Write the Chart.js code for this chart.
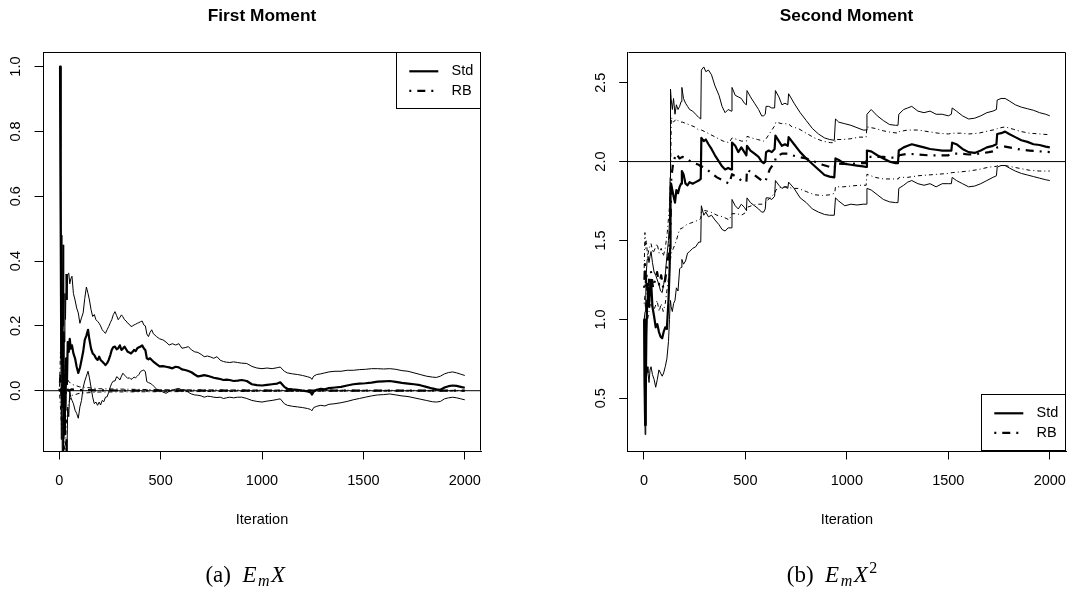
<!DOCTYPE html>
<html><head><meta charset="utf-8">
<script src="https://cdn.jsdelivr.net/npm/chart.js@4.4.1/dist/chart.umd.min.js"></script>
<style>
html,body{margin:0;padding:0;background:#fff;}
#wrap{position:relative;width:1090px;height:592px;overflow:hidden;background:#fff;}
.panel{position:absolute;top:0;width:545px;height:592px;}
.ttl{position:absolute;top:4.7px;width:300px;font:bold 17.3px "Liberation Sans",Arial,sans-serif;line-height:20px;text-align:center;white-space:nowrap;color:#000;}
.cap{position:absolute;top:562px;width:240px;font:23px "Liberation Serif","Times New Roman",serif;line-height:26px;text-align:center;white-space:nowrap;color:#000;}
.cap i{letter-spacing:1.5px;}
.sub{font-size:16px;position:relative;top:4px;font-style:italic;}
.sup{font-size:16px;position:relative;top:-9px;font-style:normal;}
</style></head>
<body>
<div id="wrap">
  <div class="panel" style="left:0"><canvas id="c1" width="545" height="592"></canvas></div>
  <div class="panel" style="left:545px"><canvas id="c2" width="545" height="592"></canvas></div>
  <div class="ttl" style="left:112px">First Moment</div>
  <div class="ttl" style="left:696.5px">Second Moment</div>
  <div class="cap" style="left:126px">(a)&nbsp;&nbsp;<i>E<span class="sub">m</span>X</i></div>
  <div class="cap" style="left:712px">(b)&nbsp;&nbsp;<i>E<span class="sub">m</span>X</i><span class="sup">2</span></div>
</div>
<script>
// ---------- data ----------
const xTicks = [0, 500, 1000, 1500, 2000];
const yTicksFirst = [0, 0.2, 0.4, 0.6, 0.8, 1.0];
const yTicksSecond = [0.5, 1.0, 1.5, 2.0, 2.5];
const legendLabels = ['Std', 'RB'];
const trueFirst = 0;
const trueSecond = 2;

const firstStdIter = [1,4,7,10,13,16,19,22,25,28,
 31,34,38,42,47,52,57,63,70,78,
 86,94,102,110,118,126,134,142,149,157,
 165,173,181,189,197,204,212,220,228,236,
 244,252,259,267,275,283,291,299,307,314,
 322,330,338,346,354,362,369,377,385,393,
 401,409,417,425,432,440,448,456,464,480,
 495,511,527,542,558,574,590,605,621,637,
 652,668,684,700,715,731,747,762,778,794,
 810,825,841,860,880,900,925,950,975,1000,
 1025,1050,1075,1090,1110,1125,1150,1175,1200,1225,
 1240,1246,1255,1270,1290,1310,1330,1360,1390,1420,
 1450,1480,1510,1540,1570,1600,1630,1660,1690,1720,
 1750,1780,1810,1840,1860,1880,1900,1920,1940,1960,
 1980,2000];
const firstStdMean = [1.0,1.0,0.55,0.1,0.25,-0.05,0.18,-0.1,-0.135,0.05,
 -0.06,0.1,0.02,0.15,0.12,0.16,0.13,0.14,0.115,0.1,
 0.074,0.055,0.07,0.095,0.12,0.157,0.17,0.188,0.157,0.13,
 0.115,0.11,0.1,0.095,0.105,0.095,0.09,0.085,0.079,0.085,
 0.095,0.11,0.126,0.135,0.136,0.128,0.131,0.14,0.126,0.13,
 0.136,0.128,0.12,0.118,0.115,0.12,0.126,0.122,0.131,0.134,
 0.136,0.14,0.131,0.125,0.1,0.097,0.1,0.095,0.09,0.082,
 0.075,0.076,0.074,0.072,0.069,0.074,0.072,0.066,0.064,0.061,
 0.057,0.05,0.044,0.046,0.048,0.046,0.043,0.04,0.038,0.036,
 0.033,0.034,0.033,0.03,0.031,0.033,0.03,0.02,0.017,0.016,
 0.018,0.02,0.022,0.026,0.012,0.006,0.004,0.003,0.0,-0.002,
 -0.005,-0.012,-0.003,0.003,0.006,0.004,0.008,0.01,0.012,0.016,
 0.02,0.022,0.023,0.025,0.028,0.029,0.03,0.027,0.024,0.022,
 0.02,0.017,0.012,0.007,0.004,0.003,0.01,0.014,0.016,0.015,
 0.012,0.009];
const firstStdUpper = [1.0,1.0,0.75,0.35,0.48,0.25,0.45,0.2,0.15,0.3,
 0.22,0.36,0.28,0.36,0.363,0.33,0.345,0.353,0.3,0.28,
 0.255,0.24,0.208,0.225,0.24,0.285,0.32,0.3,0.28,0.25,
 0.229,0.235,0.219,0.214,0.208,0.2,0.188,0.182,0.177,0.188,
 0.198,0.21,0.219,0.235,0.244,0.232,0.219,0.226,0.234,0.228,
 0.219,0.215,0.208,0.205,0.198,0.2,0.203,0.205,0.208,0.21,
 0.213,0.215,0.203,0.2,0.175,0.167,0.18,0.188,0.176,0.167,
 0.16,0.157,0.15,0.141,0.145,0.141,0.145,0.131,0.133,0.136,
 0.126,0.12,0.118,0.112,0.105,0.107,0.104,0.1,0.105,0.094,
 0.09,0.088,0.087,0.089,0.087,0.085,0.084,0.075,0.07,0.068,
 0.07,0.068,0.071,0.073,0.06,0.055,0.052,0.05,0.047,0.043,
 0.04,0.035,0.045,0.05,0.052,0.055,0.058,0.06,0.06,0.063,
 0.063,0.065,0.066,0.068,0.068,0.067,0.068,0.066,0.062,0.06,
 0.055,0.05,0.045,0.042,0.041,0.045,0.052,0.056,0.058,0.055,
 0.051,0.047];
const firstStdLower = [1.0,1.0,0.35,-0.15,0.02,-0.3,-0.08,-0.35,-0.4,-0.2,
 -0.32,-0.15,-0.2,-0.05,-0.08,0.0,-0.02,-0.03,-0.04,-0.06,
 -0.07,-0.085,-0.05,-0.03,0.01,0.03,0.045,0.06,0.04,0.01,
 -0.02,-0.04,-0.035,-0.045,-0.035,-0.044,-0.03,-0.034,-0.02,-0.019,
 -0.005,0.012,0.023,0.03,0.03,0.043,0.04,0.033,0.045,0.054,
 0.048,0.043,0.038,0.04,0.035,0.038,0.042,0.04,0.045,0.05,
 0.059,0.062,0.064,0.058,0.028,0.025,0.023,0.02,0.015,0.005,
 0.002,-0.004,-0.008,-0.002,0.002,0.005,0.007,0.002,0.003,-0.005,
 -0.01,-0.013,-0.014,-0.016,-0.02,-0.017,-0.018,-0.02,-0.021,-0.02,
 -0.024,-0.022,-0.02,-0.022,-0.02,-0.02,-0.024,-0.03,-0.033,-0.035,
 -0.032,-0.03,-0.027,-0.025,-0.04,-0.045,-0.048,-0.05,-0.052,-0.055,
 -0.058,-0.062,-0.052,-0.048,-0.045,-0.047,-0.042,-0.04,-0.037,-0.033,
 -0.028,-0.024,-0.02,-0.016,-0.013,-0.012,-0.01,-0.013,-0.016,-0.018,
 -0.022,-0.026,-0.03,-0.034,-0.035,-0.033,-0.025,-0.022,-0.02,-0.022,
 -0.025,-0.028];

const firstRBIter  = [1, 6, 12, 20, 28, 35, 45, 60, 100, 200, 500, 1000, 2000];
const firstRBMean  = [0.0, 0.05, -0.03, 0.02, -0.04, 0.01, 0.0, 0.004, 0.002, 0.001, 0.0, 0.0, 0.0];
const firstRBUpper = [0.0, 0.12, 0.08, 0.1, 0.06, 0.05, 0.03, 0.02, 0.012, 0.006, 0.003, 0.002, 0.001];
const firstRBLower = [0.0, -0.05, -0.12, -0.08, -0.22, -0.1, -0.04, -0.015, -0.008, -0.004, -0.003, -0.002, -0.001];

const secondStdIter = [1,3,6,9,12,16,20,25,30,35,
 42,50,58,66,74,82,90,97,105,113,
 121,126,129,131,134,140,146,153,160,168,
 176,183,187,195,205,215,225,240,255,270,
 280,283,295,305,318,333,350,370,385,400,
 415,430,434,450,465,480,495,505,508,525,
 545,565,580,590,598,602,615,630,644,648,
 665,680,695,709,713,740,770,800,830,860,
 890,915,938,944,960,990,1020,1050,1080,1095,
 1099,1120,1150,1180,1210,1240,1252,1256,1280,1300,
 1320,1350,1380,1410,1440,1470,1500,1515,1519,1540,
 1570,1600,1630,1660,1690,1720,1737,1741,1760,1780,
 1800,1830,1860,1890,1920,1950,1980,2000];
const secondStdMean = [1.0,0.6,0.33,0.55,0.9,1.12,1.2,1.08,1.2,1.25,
 1.08,1.02,0.95,0.97,0.92,0.89,0.88,0.92,0.95,0.94,
 1.12,1.3,1.45,1.78,1.86,1.82,1.78,1.74,1.82,1.80,
 1.84,1.86,1.94,1.92,1.86,1.85,1.87,1.86,1.87,1.88,
 1.89,2.15,2.13,2.14,2.11,2.08,2.04,2.0,1.97,1.95,
 1.96,1.95,2.12,2.10,2.06,2.09,2.06,2.04,2.10,2.07,
 2.05,2.03,2.0,1.99,2.0,2.06,2.07,2.06,2.08,2.165,
 2.13,2.10,2.11,2.10,2.155,2.11,2.06,2.02,1.985,1.95,
 1.915,1.905,1.90,2.02,2.01,1.985,1.98,1.975,1.97,1.966,
 2.07,2.065,2.04,2.02,2.0,1.99,1.99,2.07,2.09,2.10,
 2.11,2.10,2.09,2.08,2.075,2.07,2.07,2.07,2.12,2.11,
 2.08,2.06,2.055,2.07,2.09,2.10,2.11,2.175,2.18,2.19,
 2.175,2.155,2.135,2.125,2.11,2.105,2.095,2.09];
const secondStdUpper = [1.0,1.0,1.05,1.15,1.3,1.38,1.40,1.36,1.40,1.43,
 1.36,1.30,1.28,1.25,1.22,1.18,1.17,1.22,1.28,1.40,
 1.50,1.62,1.9,2.46,2.40,2.33,2.40,2.30,2.36,2.33,
 2.35,2.38,2.47,2.40,2.37,2.35,2.33,2.32,2.30,2.28,
 2.27,2.58,2.60,2.57,2.58,2.55,2.48,2.42,2.35,2.31,
 2.33,2.32,2.47,2.42,2.41,2.40,2.37,2.36,2.45,2.41,
 2.37,2.33,2.29,2.29,2.30,2.35,2.35,2.34,2.34,2.45,
 2.41,2.36,2.37,2.36,2.43,2.37,2.31,2.26,2.21,2.175,
 2.15,2.14,2.135,2.27,2.25,2.24,2.23,2.215,2.20,2.20,
 2.30,2.33,2.29,2.26,2.235,2.23,2.23,2.30,2.33,2.34,
 2.35,2.32,2.31,2.32,2.30,2.30,2.29,2.30,2.34,2.32,
 2.29,2.27,2.275,2.29,2.31,2.32,2.33,2.39,2.40,2.40,
 2.385,2.36,2.345,2.335,2.325,2.31,2.30,2.29];
const secondStdLower = [1.0,0.5,0.27,0.45,0.62,0.70,0.66,0.60,0.68,0.70,
 0.65,0.62,0.57,0.62,0.68,0.66,0.64,0.66,0.70,0.75,
 0.86,1.0,1.1,1.12,1.08,1.05,1.10,1.12,1.20,1.18,
 1.32,1.33,1.38,1.35,1.37,1.42,1.43,1.45,1.46,1.49,
 1.49,1.72,1.66,1.68,1.65,1.66,1.63,1.60,1.57,1.56,
 1.58,1.58,1.76,1.72,1.70,1.73,1.71,1.69,1.77,1.74,
 1.72,1.70,1.68,1.68,1.70,1.77,1.77,1.76,1.78,1.88,
 1.85,1.83,1.84,1.83,1.87,1.83,1.77,1.74,1.70,1.68,
 1.665,1.66,1.66,1.77,1.75,1.72,1.73,1.725,1.73,1.73,
 1.83,1.82,1.79,1.76,1.745,1.74,1.74,1.83,1.85,1.87,
 1.88,1.86,1.85,1.86,1.84,1.86,1.86,1.86,1.90,1.88,
 1.86,1.84,1.845,1.86,1.88,1.90,1.91,1.965,1.975,1.975,
 1.96,1.94,1.925,1.915,1.905,1.895,1.885,1.88];

const secondRBIter = [1,5,8,12,18,25,35,45,55,65,
 75,85,95,105,115,125,131,135,145,160,
 175,190,210,230,250,270,280,283,300,330,
 360,390,420,434,460,480,505,508,530,560,
 590,600,620,646,650,680,711,730,760,800,
 840,880,920,940,944,980,1020,1060,1095,1099,
 1140,1180,1220,1254,1258,1300,1350,1400,1450,1500,
 1519,1560,1600,1650,1700,1739,1741,1780,1820,1860,
 1900,1950,2000];
const secondRBMean = [1.2,1.35,1.2,1.3,1.15,1.25,1.3,1.2,1.25,1.3,
 1.22,1.28,1.2,1.25,1.35,1.45,1.6,1.9,2.0,2.05,
 2.02,2.03,2.02,2.0,1.99,1.98,1.97,1.97,1.96,1.93,
 1.90,1.88,1.86,1.92,1.90,1.88,1.87,1.95,1.93,1.90,
 1.87,1.88,1.95,2.0,2.03,2.05,2.05,2.04,2.03,2.02,
 2.0,1.98,1.965,1.96,1.99,1.985,1.985,1.99,1.99,2.03,
 2.03,2.03,2.025,2.025,2.04,2.05,2.045,2.04,2.04,2.04,
 2.05,2.05,2.045,2.05,2.06,2.07,2.09,2.095,2.085,2.075,
 2.07,2.065,2.06];
const secondRBUpper = [1.3,1.55,1.45,1.5,1.4,1.45,1.48,1.42,1.45,1.48,
 1.42,1.45,1.40,1.45,1.55,1.7,1.9,2.28,2.25,2.27,
 2.25,2.25,2.24,2.23,2.22,2.2,2.2,2.2,2.19,2.17,
 2.15,2.13,2.12,2.15,2.14,2.13,2.13,2.16,2.15,2.14,
 2.13,2.14,2.18,2.23,2.25,2.24,2.24,2.22,2.21,2.18,
 2.15,2.13,2.12,2.12,2.14,2.14,2.145,2.155,2.155,2.22,
 2.21,2.195,2.185,2.18,2.19,2.2,2.2,2.19,2.18,2.175,
 2.18,2.18,2.175,2.18,2.195,2.205,2.21,2.22,2.205,2.19,
 2.18,2.175,2.17];
const secondRBLower = [1.1,1.15,1.05,1.1,1.0,1.05,1.12,1.05,1.08,1.12,
 1.05,1.1,1.05,1.1,1.2,1.3,1.38,1.42,1.45,1.5,
 1.57,1.58,1.6,1.61,1.62,1.63,1.64,1.68,1.69,1.68,
 1.66,1.65,1.63,1.67,1.67,1.66,1.68,1.71,1.72,1.73,
 1.73,1.74,1.77,1.8,1.82,1.84,1.84,1.83,1.83,1.81,
 1.79,1.785,1.79,1.80,1.84,1.84,1.845,1.85,1.85,1.92,
 1.90,1.89,1.89,1.89,1.90,1.90,1.91,1.915,1.92,1.925,
 1.93,1.935,1.94,1.95,1.965,1.97,1.975,1.975,1.965,1.955,
 1.945,1.94,1.94];

// ---------- chart construction ----------
const FONT = '"Liberation Sans", Arial, Helvetica, sans-serif';
const FS = 14.5;
const THICK = 2.2, THIN = 1;
const DASH_THICK = [2, 6, 8, 6];
const DASH_THIN = [1, 3, 4, 3];

function pts(xs, ys) { return xs.map((x, i) => ({ x: x, y: ys[i] })); }
function lineDS(label, xs, ys, width, dash) {
  return {
    label: label, data: pts(xs, ys), borderColor: '#000', backgroundColor: '#000',
    borderWidth: width, borderDash: dash || [], pointRadius: 0, pointHoverRadius: 0,
    fill: false, tension: 0, clip: 0, borderJoinStyle: 'round', borderCapStyle: 'butt'
  };
}
function refDS(v) {
  return lineDS('ref', [-80, 2080], [v, v], 1, []);
}

const boxPlugin = {
  id: 'rBox',
  afterDraw(chart) {
    const a = chart.chartArea, ctx = chart.ctx;
    ctx.save();
    ctx.strokeStyle = '#000'; ctx.lineWidth = 1;
    const t = Math.round(a.top) + 0.5, r = Math.round(a.right) - 0.5;
    const l = Math.round(a.left) + 0.5, b = Math.round(a.bottom) - 0.5;
    ctx.beginPath();
    ctx.moveTo(l, t); ctx.lineTo(r, t); ctx.lineTo(r, b);
    ctx.stroke();
    ctx.restore();
  }
};

const legendPlugin = {
  id: 'rLegend',
  afterDraw(chart, args, opts) {
    const a = chart.chartArea, ctx = chart.ctx;
    const w = 85, h = 57;
    const left = Math.round(a.right) - w;
    const top = opts.corner === 'top' ? Math.round(a.top) : Math.round(a.bottom) - h;
    const items = [
      { text: legendLabels[0], width: THICK, dash: [] },
      { text: legendLabels[1], width: THICK, dash: DASH_THICK }
    ];
    ctx.save();
    ctx.strokeStyle = '#000'; ctx.lineWidth = 1;
    ctx.strokeRect(left + 0.5, top + 0.5, w - 1, h - 1);
    items.forEach((it, i) => {
      const y = top + 19.3 + i * 19.5;
      ctx.beginPath();
      ctx.setLineDash(it.dash);
      ctx.lineWidth = it.width;
      ctx.moveTo(left + 13.3, y); ctx.lineTo(left + 42.3, y);
      ctx.stroke();
      ctx.setLineDash([]);
      ctx.fillStyle = '#000';
      ctx.font = FS + 'px ' + FONT;
      ctx.textBaseline = 'middle'; ctx.textAlign = 'left';
      ctx.fillText(it.text, left + 55.5, y);
    });
    ctx.restore();
  }
};

function makeChart(id, datasets, yMin, yMax, yTicks, areaLeft, areaRight, corner) {
  const gridOpts = { display: true, drawOnChartArea: false, drawTicks: true, tickLength: 8.5, color: '#000', lineWidth: 1 };
  const borderOpts = { display: true, color: '#000', width: 1 };
  return new Chart(document.getElementById(id), {
    type: 'line',
    data: { datasets: datasets },
    plugins: [boxPlugin, legendPlugin],
    options: {
      responsive: false, animation: false, events: [],
      layout: { padding: { left: 0, right: 545 - areaRight, top: 52, bottom: 52 } },
      plugins: { legend: { display: false }, tooltip: { enabled: false }, title: { display: false }, rLegend: { corner: corner } },
      scales: {
        x: {
          type: 'linear', min: -80, max: 2080,
          afterBuildTicks: s => { s.ticks = xTicks.map(v => ({ value: v })); },
          afterFit: s => { s.height = 89; },
          grid: gridOpts, border: borderOpts,
          ticks: { color: '#000', font: { family: FONT, size: FS }, padding: 12.8, maxRotation: 0, minRotation: 0, autoSkip: false, callback: v => String(v) },
          title: { display: true, text: 'Iteration', color: '#000', font: { family: FONT, size: FS }, padding: { top: 0, bottom: 11.3 } }
        },
        y: {
          type: 'linear', min: yMin, max: yMax,
          afterBuildTicks: s => { s.ticks = yTicks.map(v => ({ value: v })); },
          afterFit: s => { s.width = areaLeft; },
          grid: gridOpts, border: borderOpts,
          ticks: { color: '#000', font: { family: FONT, size: FS }, padding: 8.5, minRotation: 90, maxRotation: 90, crossAlign: 'center', autoSkip: false, callback: v => Number(v).toFixed(1) }
        }
      }
    }
  });
}

makeChart('c1', [
  lineDS('Std', firstStdIter, firstStdMean, THICK, []),
  lineDS('Std upper', firstStdIter, firstStdUpper, THIN, []),
  lineDS('Std lower', firstStdIter, firstStdLower, THIN, []),
  lineDS('RB', firstRBIter, firstRBMean, THICK, DASH_THICK),
  lineDS('RB upper', firstRBIter, firstRBUpper, THIN, DASH_THIN),
  lineDS('RB lower', firstRBIter, firstRBLower, THIN, DASH_THIN),
  refDS(trueFirst)
], -0.186, 1.045, yTicksFirst, 43, 481, 'top');

makeChart('c2', [
  lineDS('Std', secondStdIter, secondStdMean, THICK, []),
  lineDS('Std upper', secondStdIter, secondStdUpper, THIN, []),
  lineDS('Std lower', secondStdIter, secondStdLower, THIN, []),
  lineDS('RB', secondRBIter, secondRBMean, THICK, DASH_THICK),
  lineDS('RB upper', secondRBIter, secondRBUpper, THIN, DASH_THIN),
  lineDS('RB lower', secondRBIter, secondRBLower, THIN, DASH_THIN),
  refDS(trueSecond)
], 0.166, 2.6945, yTicksSecond, 82.7, 521, 'bottom');
</script>
</body></html>
